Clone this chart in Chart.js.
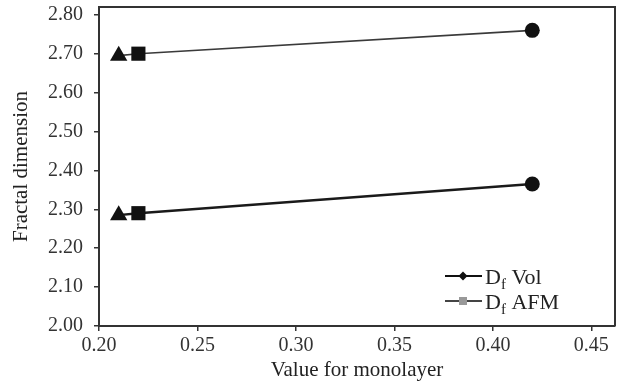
<!DOCTYPE html>
<html>
<head>
<meta charset="utf-8">
<script src="https://cdn.jsdelivr.net/npm/chart.js@4/dist/chart.umd.min.js"></script>
<style>
  html, body { margin: 0; padding: 0; background: #fff; }
</style>
</head>
<body>
<canvas id="graph" width="617" height="387"></canvas>
<script>
// values
var xTicks = [0.20, 0.25, 0.30, 0.35, 0.40, 0.45];
var yTicks = [2.00, 2.10, 2.20, 2.30, 2.40, 2.50, 2.60, 2.70, 2.80];
var monolayer = [0.21, 0.22, 0.42];
var dfVol = [2.285, 2.29, 2.365];
var dfAfm = [2.695, 2.70, 2.76];
var legendNames = ['Vol', 'AFM'];

var serif = "'Liberation Serif', 'Times New Roman', serif";

function toPoints(xs, ys) {
  var pts = [];
  for (var i = 0; i < xs.length; i++) {
    pts.push({ x: xs[i], y: ys[i] });
  }
  return pts;
}

// top and right edges of the plot box
var boxPlugin = {
  id: 'box',
  beforeDatasetsDraw: function(chart) {
    var a = chart.chartArea, ctx = chart.ctx;
    ctx.save();
    ctx.strokeStyle = '#333';
    ctx.lineWidth = 2;
    ctx.beginPath();
    ctx.moveTo(a.left, a.top);
    ctx.lineTo(a.right, a.top);
    ctx.lineTo(a.right, a.bottom);
    ctx.stroke();
    ctx.restore();
  }
};

// legend with the subscript f, drawn by hand
var legendPlugin = {
  id: 'dfLegend',
  afterDraw: function(chart) {
    var ctx = chart.ctx;
    var rows = [
      { name: legendNames[0], line: '#111', mark: '#111', shape: 'diamond', y: 276 },
      { name: legendNames[1], line: '#444', mark: '#999', shape: 'square', y: 301 }
    ];
    ctx.save();
    rows.forEach(function(r) {
      ctx.strokeStyle = r.line;
      ctx.lineWidth = 2;
      ctx.beginPath();
      ctx.moveTo(445, r.y);
      ctx.lineTo(482, r.y);
      ctx.stroke();
      ctx.fillStyle = r.mark;
      ctx.beginPath();
      if (r.shape == 'diamond') {
        ctx.moveTo(463, r.y - 4.5);
        ctx.lineTo(467.5, r.y);
        ctx.lineTo(463, r.y + 4.5);
        ctx.lineTo(458.5, r.y);
        ctx.closePath();
      } else {
        ctx.rect(459, r.y - 4, 8, 8);
      }
      ctx.fill();

      var x = 485, base = r.y + 8;
      ctx.fillStyle = '#222';
      ctx.textBaseline = 'alphabetic';
      ctx.font = '22px ' + serif;
      ctx.fillText('D', x, base);
      x += ctx.measureText('D').width;
      ctx.font = '15px ' + serif;
      ctx.fillText('f', x, base + 5);
      x += ctx.measureText('f').width;
      ctx.font = '22px ' + serif;
      ctx.fillText(' ' + r.name, x, base);
    });
    ctx.restore();
  }
};

var ctx = document.getElementById('graph').getContext('2d');
var myChart = new Chart(ctx, {
  type: 'line',
  data: {
    datasets: [{
      label: 'Df Vol',
      data: toPoints(monolayer, dfVol),
      borderColor: '#1a1a1a',
      borderWidth: 2.5,
      pointStyle: ['triangle', 'rect', 'circle'],
      pointRadius: [10, 10, 7.5],
      pointBackgroundColor: '#111',
      pointBorderColor: '#111',
      pointBorderWidth: 0,
      tension: 0
    }, {
      label: 'Df AFM',
      data: toPoints(monolayer, dfAfm),
      borderColor: '#3a3a3a',
      borderWidth: 1.6,
      pointStyle: ['triangle', 'rect', 'circle'],
      pointRadius: [10, 10, 7.5],
      pointBackgroundColor: '#111',
      pointBorderColor: '#111',
      pointBorderWidth: 0,
      tension: 0
    }]
  },
  options: {
    responsive: false,
    animation: false,
    devicePixelRatio: 1,
    layout: { autoPadding: false, padding: { top: 7, right: 2, left: 0, bottom: 0 } },
    plugins: {
      legend: { display: false },
      tooltip: { enabled: false }
    },
    scales: {
      x: {
        type: 'linear',
        min: 0.20,
        max: 0.462,
        afterBuildTicks: function(axis) {
          axis.ticks = xTicks.map(function(v) { return { value: v }; });
        },
        afterFit: function(axis) {
          axis.height = 61;
          axis.paddingLeft = 0;
          axis.paddingRight = 0;
        },
        ticks: {
          font: { family: serif, size: 20 },
          color: '#333',
          padding: 3,
          maxRotation: 0,
          callback: function(v) { return Number(v).toFixed(2); }
        },
        grid: { drawOnChartArea: false, drawTicks: true, tickLength: 5, color: '#333', lineWidth: 1.5 },
        border: { color: '#333', width: 2 },
        title: {
          display: true,
          text: 'Value for monolayer',
          font: { family: serif, size: 21 },
          color: '#222',
          padding: { top: 0, bottom: 4 }
        }
      },
      y: {
        type: 'linear',
        min: 2.00,
        max: 2.82,
        afterBuildTicks: function(axis) {
          axis.ticks = yTicks.map(function(v) { return { value: v }; });
        },
        afterFit: function(axis) {
          axis.width = 99;
          axis.paddingTop = 0;
          axis.paddingBottom = 0;
        },
        ticks: {
          font: { family: serif, size: 20 },
          color: '#333',
          padding: 11,
          callback: function(v) { return Number(v).toFixed(2); }
        },
        grid: { drawOnChartArea: false, drawTicks: true, tickLength: 5, color: '#333', lineWidth: 1.5 },
        border: { color: '#333', width: 2 },
        title: {
          display: true,
          text: 'Fractal dimension',
          font: { family: serif, size: 21 },
          color: '#222',
          padding: { top: 9, bottom: 0 }
        }
      }
    }
  },
  plugins: [boxPlugin, legendPlugin]
});
</script>
</body>
</html>
